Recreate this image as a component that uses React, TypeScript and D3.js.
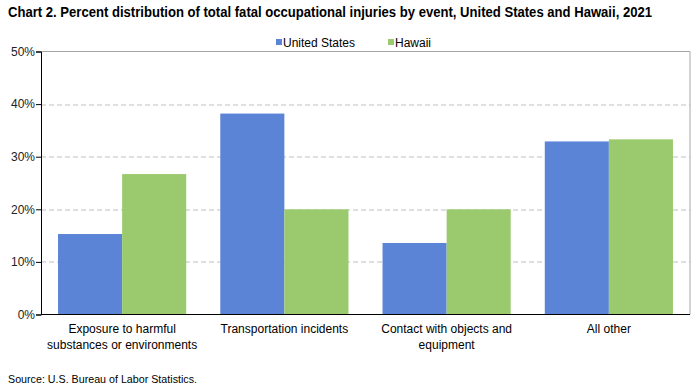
import React, { useEffect, useRef } from 'react';
import * as d3 from 'd3';

const CATEGORIES = [
  ['Exposure to harmful', 'substances or environments'],
  ['Transportation incidents'],
  ['Contact with objects and', 'equipment'],
  ['All other'],
];
const SERIES = ['United States', 'Hawaii'];
const US_VALUES = [15.3, 38.2, 13.6, 32.9];
const HAWAII_VALUES = [26.7, 20.0, 20.0, 33.3];
const Y_TICKS = [0, 10, 20, 30, 40, 50];
const COLORS = ['#5b84d6', '#9bca6e'];

const WIDTH = 696;
const HEIGHT = 389;
const MARGIN = { top: 51.5, right: 6, bottom: 74.5, left: 41 };

const App = () => {
  const ref = useRef<SVGSVGElement>(null);

  useEffect(() => {
    const svg = d3.select(ref.current);
    svg.selectAll('*').remove();

    const innerW = WIDTH - MARGIN.left - MARGIN.right;
    const innerH = HEIGHT - MARGIN.top - MARGIN.bottom;
    const font = 'Liberation Sans, Arial, sans-serif';

    const x = d3.scaleBand<number>().domain(d3.range(CATEGORIES.length)).range([0, innerW]).paddingInner(0.21).paddingOuter(0.105);
    const x1 = d3.scaleBand<number>().domain([0, 1]).range([0, x.bandwidth()]);
    const y = d3.scaleLinear().domain([0, 50]).range([innerH, 0]);

    // title is set in a condensed face in the original, squeeze it to fit
    svg.append('text')
      .attr('x', 8).attr('y', 17)
      .attr('font-family', font)
      .attr('font-weight', 'bold').attr('font-size', 14).attr('fill', '#000')
      .attr('textLength', 644).attr('lengthAdjust', 'spacingAndGlyphs')
      .text('Chart 2. Percent distribution  of total fatal occupational injuries by  event, United States and Hawaii, 2021');

    const g = svg.append('g').attr('transform', `translate(${MARGIN.left},${MARGIN.top})`);

    // grid
    g.selectAll('.grid').data(Y_TICKS.filter(t => t > 0 && t < 50)).enter()
      .append('line')
      .attr('x1', 0).attr('x2', innerW)
      .attr('y1', d => Math.round(y(d)) + 0.5).attr('y2', d => Math.round(y(d)) + 0.5)
      .attr('stroke', '#bfbfbf').attr('stroke-dasharray', '5,3');

    // plot border (top, right)
    g.append('path')
      .attr('d', `M0,${y(50)}H${innerW}V${innerH}`)
      .attr('fill', 'none').attr('stroke', '#a6a6a6');

    const groups = [US_VALUES, HAWAII_VALUES];
    groups.forEach((vals, s) => {
      g.selectAll(`.bar${s}`).data(vals).enter()
        .append('rect')
        .attr('x', (d, i) => (x(i) as number) + (x1(s) as number))
        .attr('width', x1.bandwidth())
        .attr('y', d => y(d))
        .attr('height', d => innerH - y(d))
        .attr('fill', COLORS[s]);
    });

    // y axis
    const yAxis = g.append('g').call(d3.axisLeft(y).tickValues(Y_TICKS).tickSize(5).tickFormat(d => `${d}%`));
    yAxis.select('.domain').attr('stroke', '#000');
    yAxis.selectAll('.tick line').attr('stroke', '#000');
    yAxis.selectAll('.tick text').attr('font-family', font).attr('font-size', 12).attr('fill', '#222').attr('x', -6);

    // x axis
    g.append('line').attr('x1', 0).attr('x2', innerW).attr('y1', innerH).attr('y2', innerH).attr('stroke', '#000');

    const labels = g.selectAll('.xl').data(CATEGORIES).enter()
      .append('text')
      .attr('text-anchor', 'middle')
      .attr('font-family', font).attr('font-size', 12).attr('fill', '#000')
      .attr('transform', (d, i) => `translate(${(x(i) as number) + x.bandwidth() / 2},${innerH + 18})`);
    labels.selectAll('tspan').data(d => d).enter()
      .append('tspan').attr('x', 0).attr('dy', (d, i) => (i === 0 ? 0 : 16)).text(d => d);

    // legend
    const legendX = [276, 388];
    SERIES.forEach((name, s) => {
      svg.append('rect').attr('x', legendX[s]).attr('y', 39).attr('width', 6).attr('height', 6).attr('fill', COLORS[s]);
      svg.append('text').attr('x', legendX[s] + 7).attr('y', 47)
        .attr('font-family', font).attr('font-size', 12).attr('fill', '#000').text(name);
    });

    svg.append('text').attr('x', 8).attr('y', 383)
      .attr('font-family', font).attr('font-size', 11).attr('fill', '#000')
      .attr('textLength', 189).attr('lengthAdjust', 'spacingAndGlyphs')
      .text('Source: U.S. Bureau of Labor Statistics.');
  }, []);

  return (
    <svg ref={ref} width={WIDTH} height={HEIGHT} style={{ position: 'absolute', left: 0, top: 0, background: '#fff' }} />
  );
};

export default App;
